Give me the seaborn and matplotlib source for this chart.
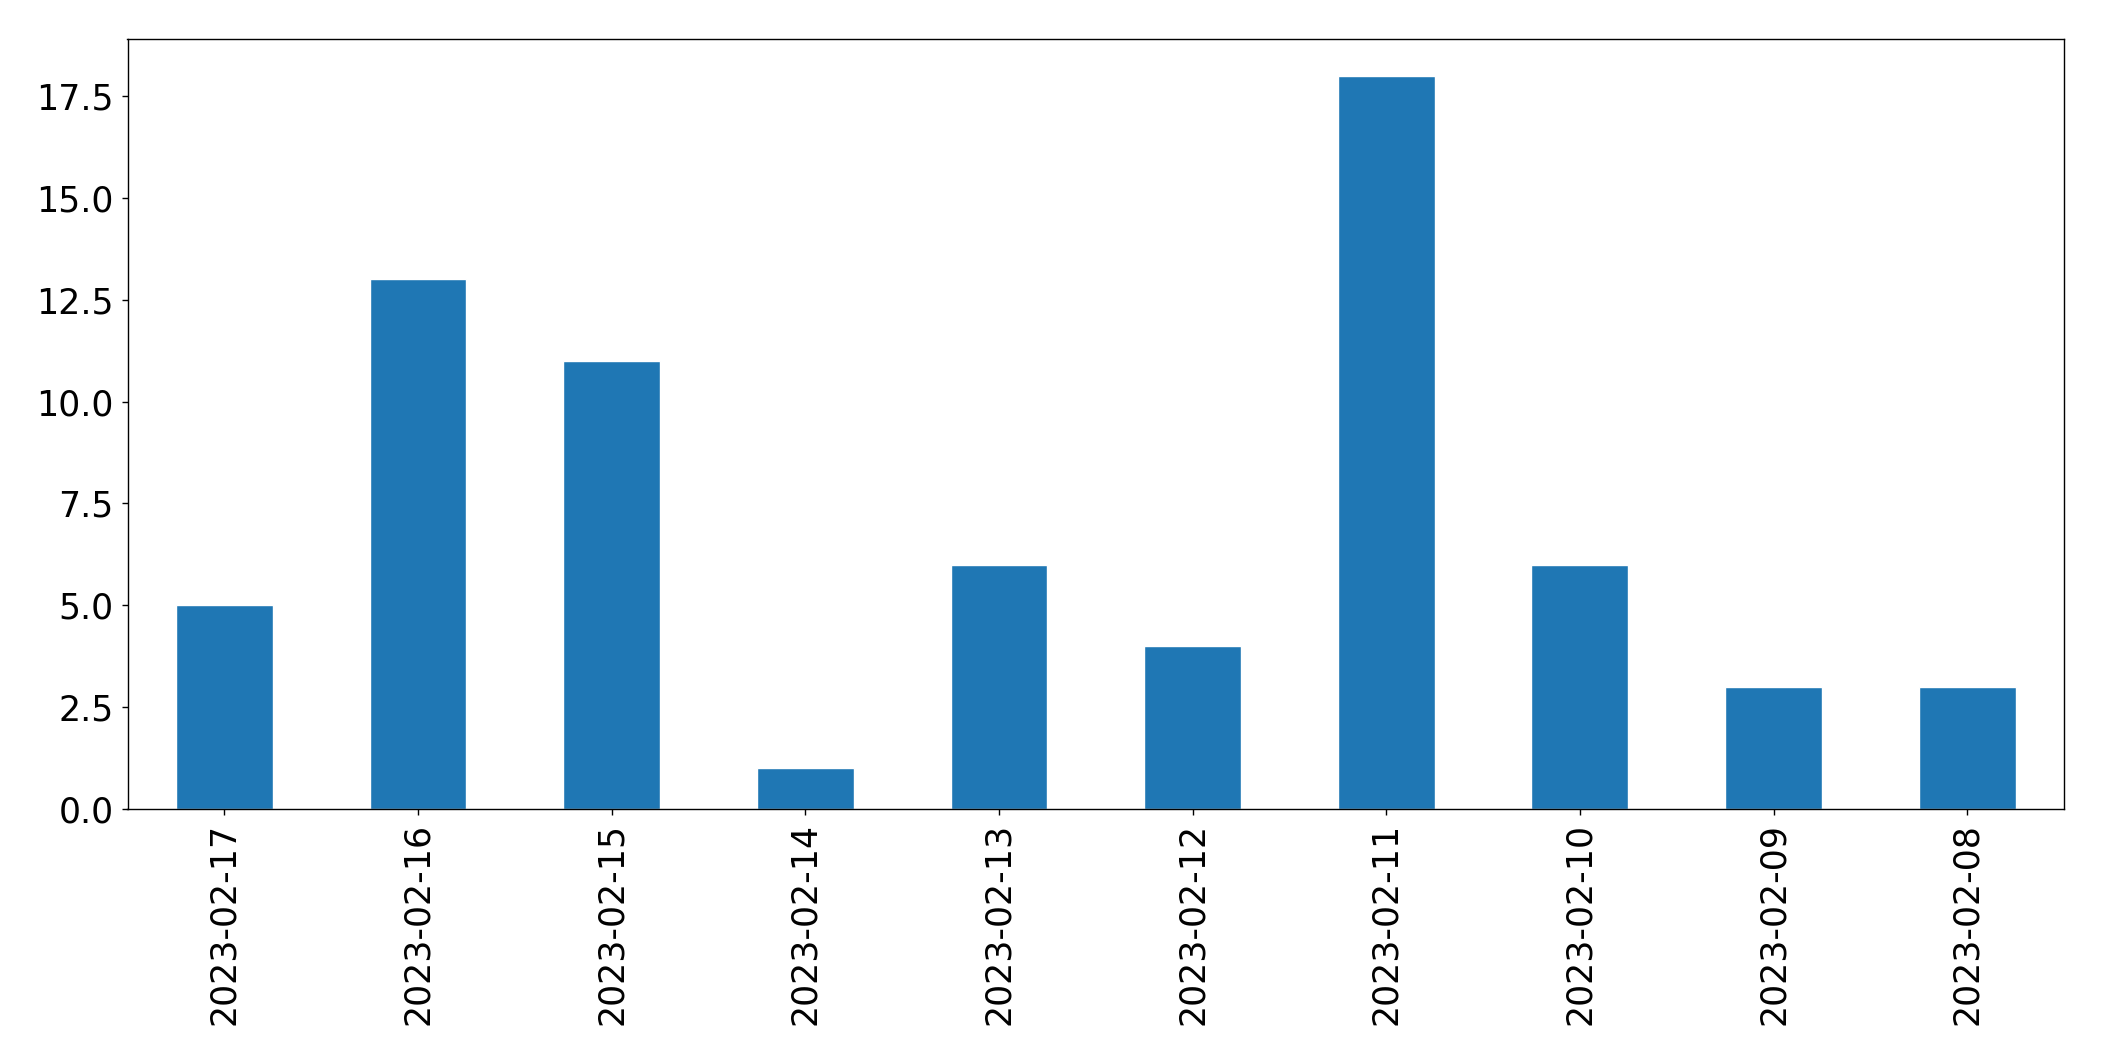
import matplotlib
matplotlib.use("Agg")
import matplotlib.pyplot as plt
import seaborn as sns
import pandas as pd

dates = ["2023-02-17", "2023-02-16", "2023-02-15", "2023-02-14", "2023-02-13",
         "2023-02-12", "2023-02-11", "2023-02-10", "2023-02-09", "2023-02-08"]
counts = [5, 13, 11, 1, 6, 4, 18, 6, 3, 3]

sns.set_style("white")
plt.rcParams['font.family'] = ['DejaVu Sans']
plt.rcParams['text.color'] = 'black'
plt.rcParams['xtick.color'] = 'black'
plt.rcParams['ytick.color'] = 'black'
plt.rcParams['axes.labelcolor'] = 'black'

df = pd.DataFrame({"date": dates, "count": counts})

fig = plt.figure(figsize=(21.04, 10.61), dpi=100)
ax = fig.add_axes([127.5 / 2104, 1 - 809 / 1061, (2064 - 127.5) / 2104, (809 - 39) / 1061])
sns.barplot(data=df, x="date", y="count", order=dates, color="#1f77b4",
            saturation=1, width=0.5, ax=ax)
ax.set_xlim(-0.5, len(dates) - 0.5)
ax.set_ylim(0, max(counts) * 1.05)
ax.set_yticks([0, 2.5, 5, 7.5, 10, 12.5, 15, 17.5])
ax.set_yticklabels(["0.0", "2.5", "5.0", "7.5", "10.0", "12.5", "15.0", "17.5"])
ax.set_xlabel("")
ax.set_ylabel("")
ax.tick_params(axis="x", labelrotation=90, labelsize=25, length=4, width=1, pad=6,
               direction="out", bottom=True, colors="black")
ax.tick_params(axis="y", labelsize=25, length=4, width=1, pad=6,
               direction="out", left=True, colors="black")
for s in ax.spines.values():
    s.set_visible(True)
    s.set_color("black")
    s.set_linewidth(1)
fig.savefig("out.png", dpi=100)
